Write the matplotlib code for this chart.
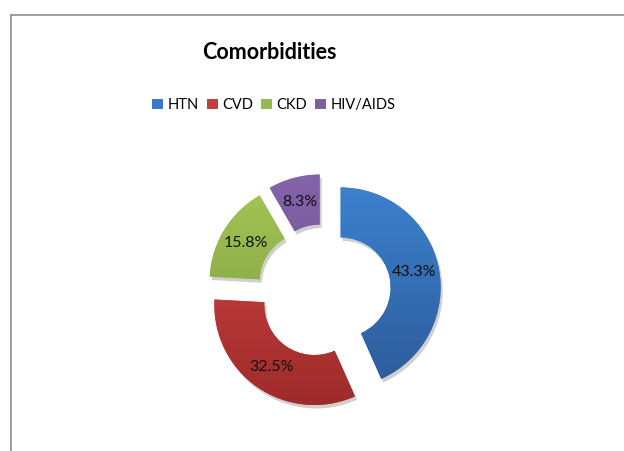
import matplotlib
matplotlib.use("Agg")
import matplotlib.pyplot as plt
import numpy as np
from matplotlib.patches import Patch
from matplotlib.lines import Line2D
import matplotlib.patheffects as pe
import matplotlib.colors as mcolors

categories = ["HTN", "CVD", "CKD", "HIV/AIDS"]
values = [43.3, 32.5, 15.8, 8.3]
pct_labels = ["43.3%", "32.5%", "15.8%", "8.3%"]
title = "Comorbidities"

top_colors = ["#3D80CE", "#CE433F", "#A4C755", "#8563AA"]
bottom_colors = ["#2C5C9A", "#9E2B2B", "#7B973E", "#6A4E8C"]
legend_colors = ["#3A78C4", "#C0403C", "#97B954", "#7E60A0"]

plt.rcParams['font.family'] = ['Lato', 'DejaVu Sans']

fig = plt.figure(figsize=(6.24, 4.51), dpi=100)
ax = fig.add_axes([0, 0, 1, 1])

it = iter(pct_labels)
wedges, texts, autotexts = ax.pie(
    values, startangle=90, counterclock=False, radius=100, center=(324, 160),
    explode=[17] * len(values), autopct=lambda p: next(it), pctdistance=0.75,
    wedgeprops=dict(width=50, linewidth=0),
    textprops=dict(fontsize=11.5, color='#111111'))

for w, tc, bc in zip(wedges, top_colors, bottom_colors):
    w.set_facecolor(tc)
    w.set_path_effects([pe.SimplePatchShadow(offset=(1.5, -2.5), shadow_rgbFace='#777777', alpha=0.35), pe.Normal()])
    cx, cy = w.center
    r = w.r
    c1 = np.array(mcolors.to_rgb(tc)); c2 = np.array(mcolors.to_rgb(bc))
    t = np.linspace(0, 1, 256)[:, None, None]
    grad = c1 * (1 - t) + c2 * t
    im = ax.imshow(grad, extent=(cx - r, cx + r, cy - r, cy + r), origin='upper',
                   aspect='auto', interpolation='bilinear', zorder=2)
    im.set_clip_path(w)

for t in autotexts:
    t.set_zorder(4)

ax.set_xlim(0, 624)
ax.set_ylim(0, 451)
ax.axis('off')

fig.text(0.431, 0.884, title, ha='center', va='center', fontsize=15.5, fontweight='bold', color='#000000')

handles = [Patch(facecolor=c, edgecolor='none', label=l) for c, l in zip(legend_colors, categories)]
fig.legend(handles=handles, loc='center', bbox_to_anchor=(0.439, 0.767), ncol=4, frameon=False,
           fontsize=10.5, handlelength=0.75, handleheight=0.75, handletextpad=0.3, columnspacing=0.55,
           borderaxespad=0)

fig.add_artist(Line2D([10.5 / 624, 10.5 / 624], [0, 1 - 14.5 / 451], color='#8c8c8c', lw=1.2, transform=fig.transFigure))
fig.add_artist(Line2D([10.5 / 624, 1], [1 - 14.5 / 451, 1 - 14.5 / 451], color='#8c8c8c', lw=1.2, transform=fig.transFigure))

fig.savefig("out.png", dpi=100)
